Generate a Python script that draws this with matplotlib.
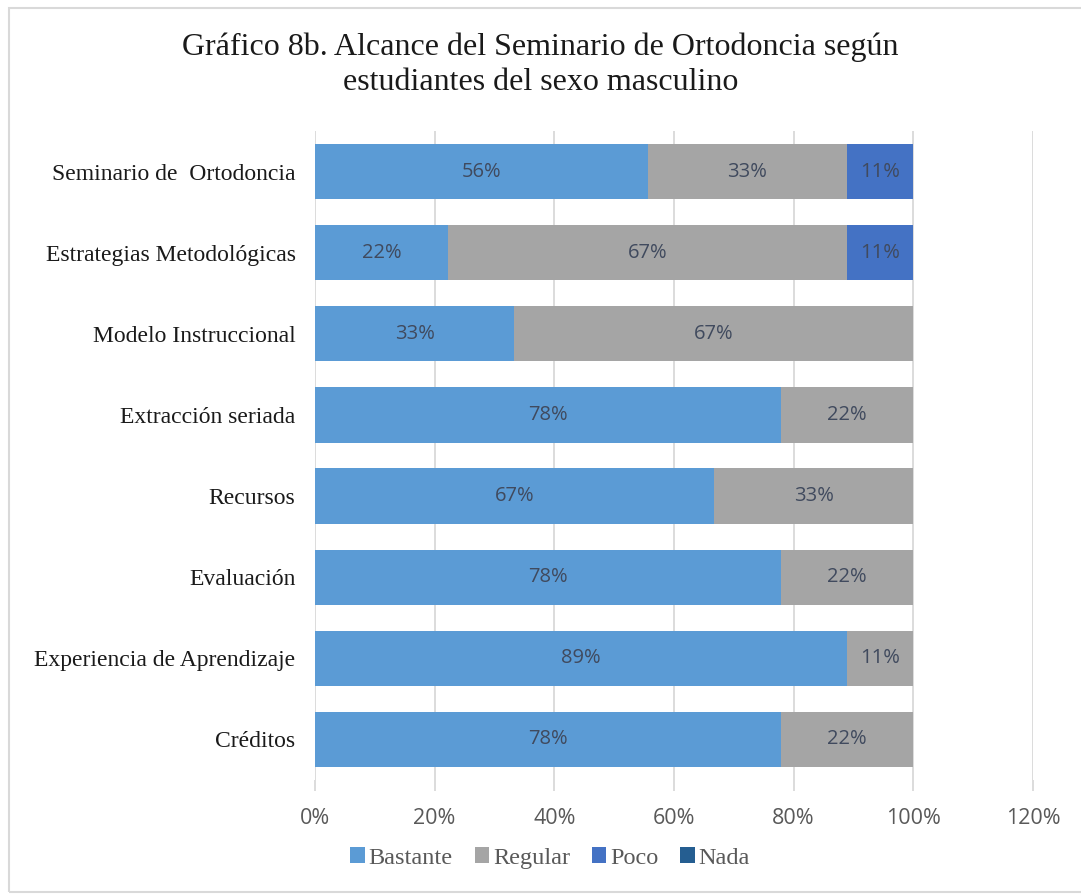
import numpy as np
import matplotlib.pyplot as plt
from matplotlib.patches import Rectangle

# === datos ===
categorias = ["Seminario de  Ortodoncia", "Estrategias Metodológicas", "Modelo Instruccional",
              "Extracción seriada", "Recursos", "Evaluación",
              "Experiencia de Aprendizaje", "Créditos"]
bastante = [55.6, 22.2, 33.3, 77.8, 66.7, 77.8, 88.9, 77.8]
regular = [33.3, 66.7, 66.7, 22.2, 33.3, 22.2, 11.1, 22.2]
poco = [11.1, 11.1, 0, 0, 0, 0, 0, 0]
nada = [0, 0, 0, 0, 0, 0, 0, 0]
series = ["Bastante", "Regular", "Poco", "Nada"]
colores = ["#5B9BD5", "#A5A5A5", "#4472C4", "#255E91"]
xticks = [0, 20, 40, 60, 80, 100, 120]

fig = plt.figure(figsize=(10.81, 8.94), dpi=100)
ax = fig.add_axes([315 / 1081, 1 - 780 / 894, 718 / 1081, 649 / 894])

# borde del grafico
fig.patches.append(Rectangle((9 / 1081, 2 / 894), 1.1, 884 / 894, transform=fig.transFigure,
                             fill=False, edgecolor="#D9D9D9", linewidth=1.5, zorder=0))

y = np.arange(len(categorias))
left = np.zeros(len(categorias))
for nombre, vals, col in zip(series, [bastante, regular, poco, nada], colores):
    vals = np.array(vals)
    ax.barh(y, vals, left=left, height=0.68, color=col, label=nombre, zorder=3)
    for yi, l, v in zip(y, left, vals):
        if v > 0:
            ax.text(l + v / 2, yi, f"{v:.0f}%", ha="center", va="center",
                    fontsize=14.5, color="#404a5e", family="Open Sans", zorder=4)
    left += vals

ax.set_xlim(0, 120)
ax.set_ylim(len(categorias) - 0.5, -0.5)
ax.set_xticks(xticks)
ax.set_xticklabels([f"{t}%" for t in xticks], family="Open Sans", fontsize=15.5, color="#595959")
ax.set_yticks(y)
ax.set_yticklabels(categorias, family="Liberation Serif", fontsize=17, color="#1a1a1a")
ax.grid(axis="x", color="#D9D9D9", linewidth=1.3, zorder=0)
for s in ax.spines.values():
    s.set_visible(False)
ax.tick_params(axis="x", length=8, color="#D9D9D9", width=1.3, pad=12)
ax.tick_params(axis="y", length=0, pad=14)

fig.text(0.5, 1 - 47 / 894, "Gráfico 8b. Alcance del Seminario de Ortodoncia según",
         ha="center", va="center", family="Liberation Serif", fontsize=23, color="#1a1a1a")
fig.text(0.5, 1 - 82 / 894, "estudiantes del sexo masculino",
         ha="center", va="center", family="Liberation Serif", fontsize=23, color="#1a1a1a")

leg = fig.legend(loc="center", bbox_to_anchor=(550 / 1081, 1 - 858 / 894), ncol=4, frameon=False,
                 prop={"family": "Liberation Serif", "size": 17.5}, handlelength=0.6, handleheight=0.6,
                 handletextpad=0.15, columnspacing=0.9)
for t in leg.get_texts():
    t.set_color("#595959")

plt.savefig("out.png", dpi=100)
